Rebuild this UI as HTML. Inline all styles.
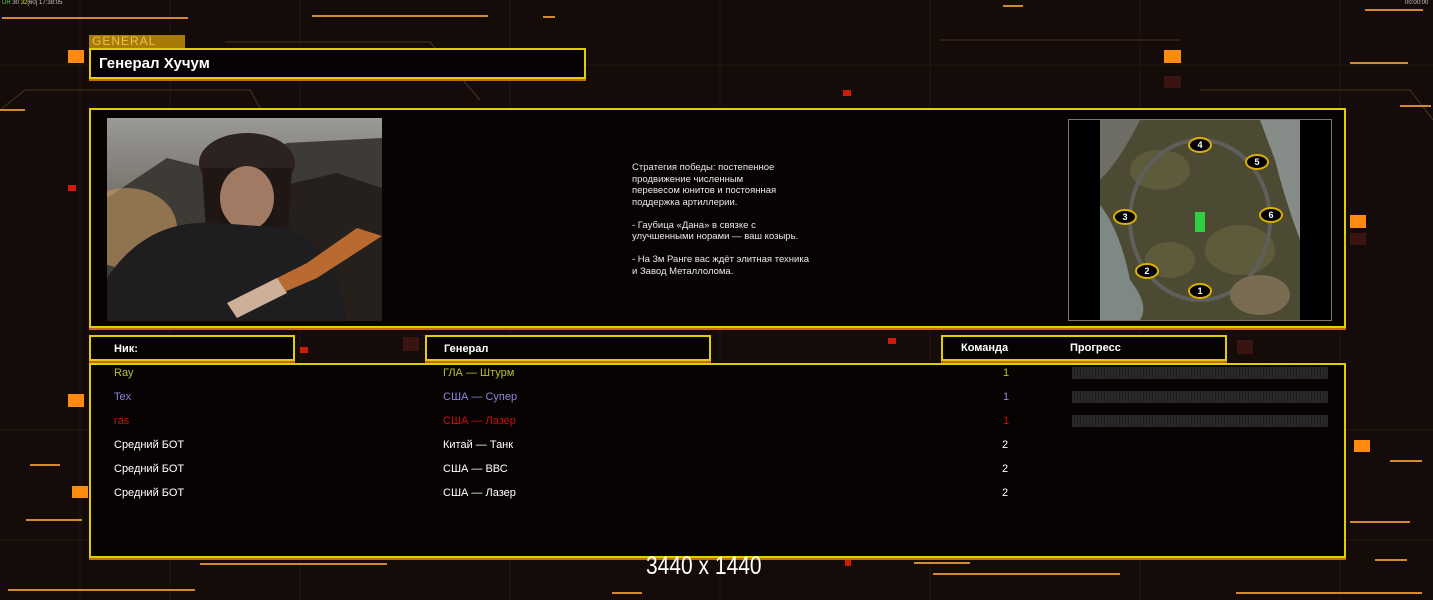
<!DOCTYPE html>
<html><head><meta charset="utf-8"><style>
*{margin:0;padding:0;box-sizing:border-box}
body{width:1433px;height:600px;background:#150b08;position:relative;overflow:hidden;font-family:"Liberation Sans","Noto Sans CJK SC",sans-serif;color:#fff}
.a{position:absolute}
.box{position:absolute;border:2px solid #e0cf00;background:#070303;box-shadow:0 2px 0 #c86a10}
.t{position:absolute;font-size:11px;white-space:nowrap}
.h{position:absolute;font-size:11px;font-weight:bold;white-space:nowrap}
.bar{position:absolute;left:1072px;width:256px;height:12px;background:repeating-linear-gradient(90deg,#2a2a2a 0 2px,#1e1e1e 2px 3px)}
</style></head><body>
<svg class="a" style="left:0;top:0" width="1433" height="600">
<g stroke="#241812" stroke-width="1">
<line x1="80" y1="0" x2="80" y2="600"/><line x1="170" y1="0" x2="170" y2="600"/><line x1="300" y1="0" x2="300" y2="600"/>
<line x1="510" y1="0" x2="510" y2="600"/><line x1="720" y1="0" x2="720" y2="600"/><line x1="930" y1="0" x2="930" y2="600"/>
<line x1="1140" y1="0" x2="1140" y2="600"/><line x1="1340" y1="0" x2="1340" y2="600"/>
<line x1="0" y1="65" x2="1433" y2="65"/><line x1="0" y1="430" x2="1433" y2="430"/><line x1="0" y1="540" x2="1433" y2="540"/>
</g>
<g stroke="#4a3520" stroke-width="1" fill="none">
<polyline points="0,110 25,90 250,90 260,108"/><polyline points="225,42 430,42 480,100"/>
<line x1="1200" y1="90" x2="1410" y2="90"/><line x1="1410" y1="90" x2="1433" y2="120"/>
<line x1="580" y1="330" x2="660" y2="200"/><line x1="920" y1="320" x2="1000" y2="200"/>
<polyline points="940,40 1180,40"/><line x1="130" y1="450" x2="280" y2="450"/>
</g>
<g stroke="#d08a30" stroke-width="2">
<line x1="2" y1="18" x2="188" y2="18"/><line x1="312" y1="16" x2="488" y2="16"/><line x1="543" y1="17" x2="555" y2="17"/>
<line x1="1003" y1="6" x2="1023" y2="6"/><line x1="1365" y1="10" x2="1423" y2="10"/><line x1="1350" y1="63" x2="1408" y2="63"/>
<line x1="1400" y1="106" x2="1431" y2="106"/><line x1="0" y1="110" x2="25" y2="110"/>
<line x1="1390" y1="461" x2="1422" y2="461"/><line x1="30" y1="465" x2="60" y2="465"/>
<line x1="26" y1="520" x2="82" y2="520"/><line x1="1350" y1="522" x2="1410" y2="522"/><line x1="1375" y1="560" x2="1407" y2="560"/>
<line x1="200" y1="564" x2="387" y2="564"/><line x1="914" y1="563" x2="970" y2="563"/><line x1="933" y1="574" x2="1120" y2="574"/>
<line x1="8" y1="590" x2="195" y2="590"/><line x1="612" y1="593" x2="642" y2="593"/><line x1="1236" y1="593" x2="1422" y2="593"/>
<line x1="1270" y1="423" x2="1330" y2="423"/>
</g>
<g fill="#ff8a10">
<rect x="68" y="50" width="16" height="13"/><rect x="1164" y="50" width="17" height="13"/><rect x="1350" y="215" width="16" height="13"/>
<rect x="68" y="394" width="16" height="13"/><rect x="1354" y="440" width="16" height="12"/><rect x="72" y="486" width="16" height="12"/>
</g>
<g fill="#d01a10"><rect x="843" y="90" width="8" height="6"/><rect x="68" y="185" width="8" height="6"/><rect x="300" y="347" width="8" height="6"/><rect x="888" y="338" width="8" height="6"/><rect x="845" y="560" width="6" height="6"/></g>
<g fill="#3a1410"><rect x="1164" y="76" width="17" height="12"/><rect x="1350" y="233" width="16" height="12"/><rect x="403" y="337" width="16" height="14"/><rect x="1237" y="340" width="16" height="14"/></g>
</svg>
<div class="t" style="left:2px;top:0;font-size:6px;color:#ccc"><span style="color:#6c6">UR</span> 30 <span style="color:#dd4">32</span>[60] 17:38:05</div>
<div class="t" style="left:1405px;top:0;font-size:6px;color:#ccc">00:00:00</div>
<div class="a" style="left:89px;top:35px;width:96px;height:13px;background:#a87a08;color:#f0c040;font-size:12px;line-height:13px;padding-left:3px;letter-spacing:1px">GENERAL</div>
<div class="box" style="left:89px;top:48px;width:497px;height:31px"><div class="h" style="left:8px;top:5px;font-size:15px">Генерал Хучум</div></div>
<div class="box" style="left:89px;top:108px;width:1257px;height:220px"></div>
<svg class="a" style="left:107px;top:118px" width="275" height="203">
<defs><linearGradient id="sky" x1="0" y1="0" x2="0" y2="1"><stop offset="0" stop-color="#9a9a98"/><stop offset=".5" stop-color="#6e665e"/><stop offset="1" stop-color="#4a3a30"/></linearGradient></defs>
<rect width="275" height="203" fill="url(#sky)"/>
<path d="M0 80 L60 40 L120 55 L180 25 L275 20 L275 203 L0 203Z" fill="#3e3a36"/>
<ellipse cx="20" cy="110" rx="50" ry="40" fill="#c89a60" opacity=".6"/>
<path d="M165 70 L230 55 L275 70 L275 203 L160 203Z" fill="#25201c"/>
<ellipse cx="140" cy="45" rx="48" ry="30" fill="#2c2220"/>
<path d="M95 50 L185 50 L180 130 L140 120 L100 130Z" fill="#201614"/>
<ellipse cx="140" cy="80" rx="27" ry="32" fill="#a07a62"/>
<path d="M113 90 Q140 140 167 90 L165 115 Q140 130 115 115Z" fill="#1a1412"/>
<path d="M0 160 Q40 100 110 105 L180 110 Q230 130 240 203 L0 203Z" fill="#1e1e20"/>
<path d="M250 110 L275 118 L210 160 L140 190 L130 180 L200 145Z" fill="#b86a30"/>
<path d="M120 185 L170 160 L180 175 L130 200Z" fill="#ccb098"/>
</svg>
<div class="t" style="left:632px;top:162px;font-size:9.5px;line-height:11.5px;color:#e8e8e8;white-space:pre">Стратегия победы: постепенное
продвижение численным
перевесом юнитов и постоянная
поддержка артиллерии.

- Гаубица «Дана» в связке с
улучшенными норами — ваш козырь.

- На 3м Ранге вас ждёт элитная техника
и Завод Металлолома.</div>
<div class="a" style="left:1068px;top:119px;width:264px;height:202px;background:#000;border:1px solid #777"></div>
<svg class="a" style="left:1100px;top:120px" width="200" height="200">
<rect width="200" height="200" fill="#4c4a32"/>
<g fill="#5e5a3c"><ellipse cx="60" cy="50" rx="30" ry="20"/><ellipse cx="140" cy="130" rx="35" ry="25"/><ellipse cx="70" cy="140" rx="25" ry="18"/></g>
<path d="M0 85 Q20 110 30 160 Q50 185 40 200 L0 200Z" fill="#7e8884"/>
<path d="M0 0 L40 0 Q20 40 0 60Z" fill="#6e6e66"/>
<path d="M160 0 L200 0 L200 120 Q185 80 175 40Z" fill="#868c88"/>
<ellipse cx="100" cy="100" rx="70" ry="80" fill="none" stroke="#5e5e5a" stroke-width="4"/>
<ellipse cx="160" cy="175" rx="30" ry="20" fill="#7a6c52"/>
<g fill="#000" stroke="#d8b000" stroke-width="2">
<ellipse cx="100" cy="25" rx="11" ry="7"/><ellipse cx="157" cy="42" rx="11" ry="7"/><ellipse cx="25" cy="97" rx="11" ry="7"/>
<ellipse cx="171" cy="95" rx="11" ry="7"/><ellipse cx="47" cy="151" rx="11" ry="7"/><ellipse cx="100" cy="171" rx="11" ry="7"/>
</g>
<g fill="#fff" font-size="9" font-weight="bold" font-family="Liberation Sans" text-anchor="middle">
<text x="100" y="28">4</text><text x="157" y="45">5</text><text x="25" y="100">3</text><text x="171" y="98">6</text><text x="47" y="154">2</text><text x="100" y="174">1</text>
</g>
<rect x="95" y="92" width="10" height="20" fill="#30d040"/>
</svg>
<div class="box" style="left:89px;top:335px;width:206px;height:26px"><div class="h" style="left:23px;top:6px">Ник:</div></div>
<div class="box" style="left:425px;top:335px;width:286px;height:26px"><div class="h" style="left:17px;top:6px">Генерал</div></div>
<div class="box" style="left:941px;top:335px;width:286px;height:26px"><div class="h" style="left:18px;top:5px">Команда</div><div class="h" style="left:127px;top:5px">Прогресс</div></div>
<div class="box" style="left:89px;top:363px;width:1257px;height:195px"></div>
<div class="bar" style="top:367px"></div><div class="bar" style="top:391px"></div><div class="bar" style="top:415px"></div>
<div class="t" style="left:114px;top:367px;color:#b8c030">Ray</div><div class="t" style="left:443px;top:367px;color:#b8c030">ГЛА — Штурм</div><div class="t" style="left:1003px;top:367px;color:#b8c030">1</div>
<div class="t" style="left:114px;top:391px;color:#8a88e0">Tex</div><div class="t" style="left:443px;top:391px;color:#8a88e0">США — Супер</div><div class="t" style="left:1003px;top:391px;color:#8a88e0">1</div>
<div class="t" style="left:114px;top:415px;color:#d01010">ras</div><div class="t" style="left:443px;top:415px;color:#d01010">США — Лазер</div><div class="t" style="left:1003px;top:415px;color:#d01010">1</div>
<div class="t" style="left:114px;top:439px">Средний БОТ</div><div class="t" style="left:443px;top:439px">Китай — Танк</div><div class="t" style="left:1002px;top:439px">2</div>
<div class="t" style="left:114px;top:463px">Средний БОТ</div><div class="t" style="left:443px;top:463px">США — ВВС</div><div class="t" style="left:1002px;top:463px">2</div>
<div class="t" style="left:114px;top:487px">Средний БОТ</div><div class="t" style="left:443px;top:487px">США — Лазер</div><div class="t" style="left:1002px;top:487px">2</div>
<div class="t" style="left:646px;top:552px;font-size:25px;transform:scaleX(.84);transform-origin:left">3440 x 1440</div>
</body></html>
